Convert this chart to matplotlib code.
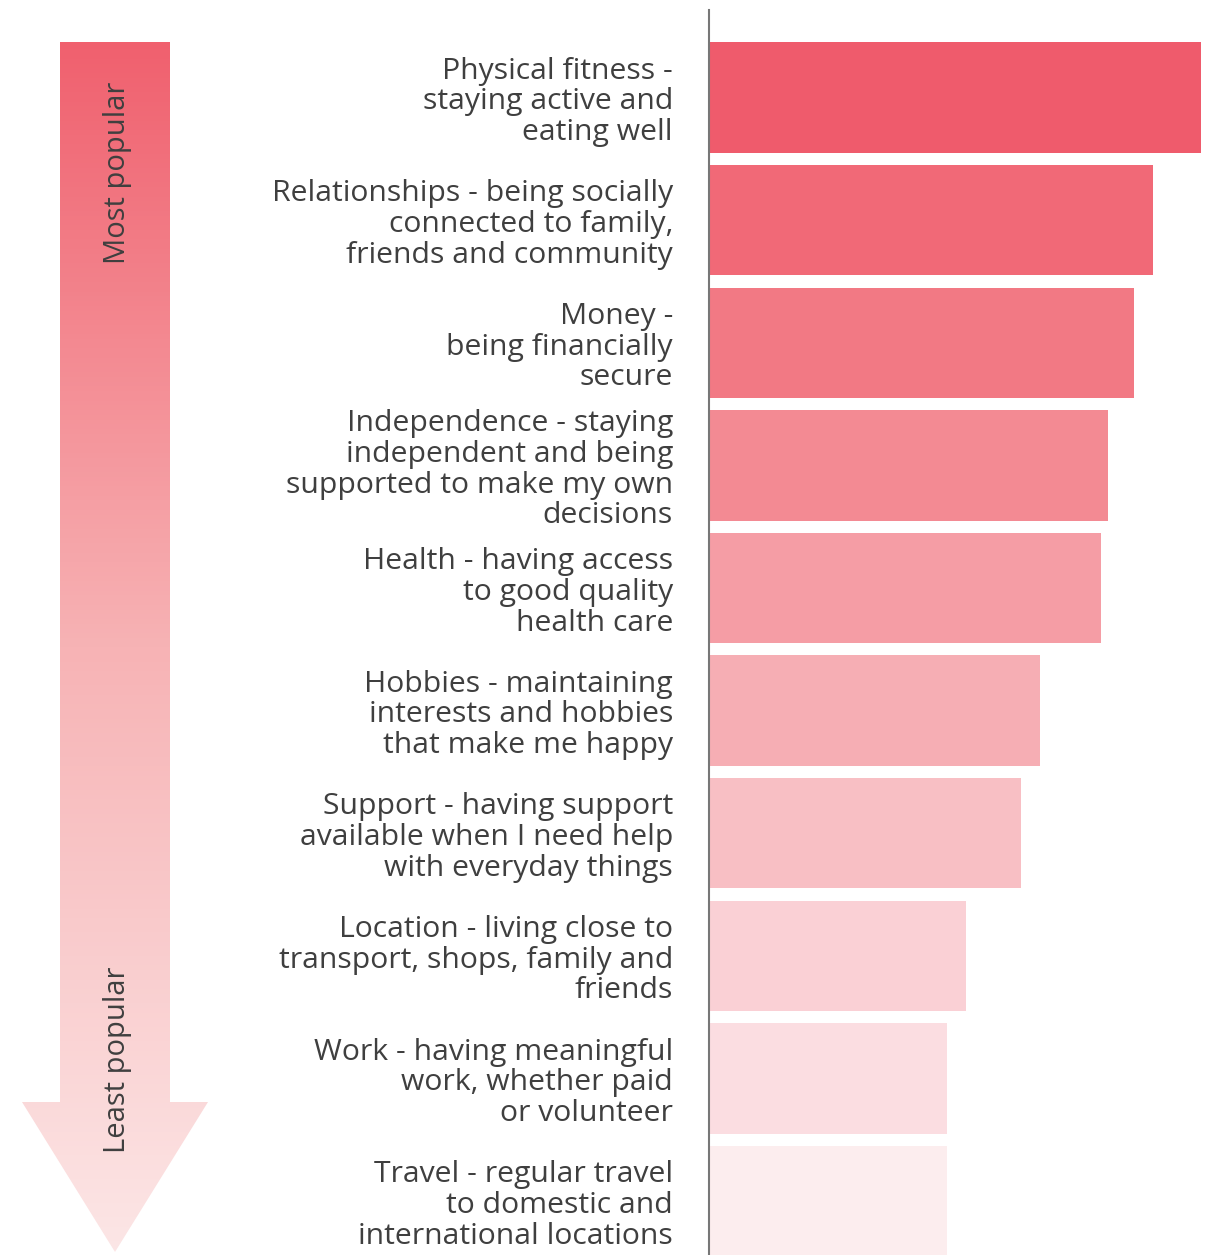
import numpy as np
import matplotlib.pyplot as plt
from matplotlib.patches import Polygon
from matplotlib.colors import LinearSegmentedColormap

labels = [
    "Physical fitness -\nstaying active and\neating well",
    "Relationships - being socially\nconnected to family,\nfriends and community",
    "Money -\nbeing financially\nsecure",
    "Independence - staying\nindependent and being\nsupported to make my own\ndecisions",
    "Health - having access\nto good quality\nhealth care",
    "Hobbies - maintaining\ninterests and hobbies\nthat make me happy",
    "Support - having support\navailable when I need help\nwith everyday things",
    "Location - living close to\ntransport, shops, family and\nfriends",
    "Work - having meaningful\nwork, whether paid\nor volunteer",
    "Travel - regular travel\nto domestic and\ninternational locations",
]
# relative popularity (bar length)
scores = [492, 444, 425, 399, 392, 331, 312, 257, 238, 238]
colors = ["#EF5B6C", "#F16977", "#F27984", "#F38A93", "#F59DA5",
          "#F6AEB4", "#F8BFC4", "#FAD0D5", "#FBDDE1", "#FCEDEE"]

plt.rcParams['font.family'] = ['Open Sans', 'DejaVu Sans']
W, H = 1220, 1255
fig = plt.figure(figsize=(W / 100, H / 100), dpi=100)

# bar chart axes: left edge at 709px, top at 10px
ax = fig.add_axes([709 / W, 0, 1 - 709 / W, (H - 10) / H])
y = np.arange(len(scores))
ax.barh(y, scores, height=0.9, color=colors)
ax.set_xlim(0, W - 709)
ax.set_ylim(9.44, -0.714)
for s in ['top', 'right', 'bottom']:
    ax.spines[s].set_visible(False)
ax.spines['left'].set_color('#777777')
ax.spines['left'].set_linewidth(1.5)
ax.set_xticks([])
ax.set_yticks(y)
ax.set_yticklabels(labels, fontsize=21.7, color='#3f3f3f', linespacing=1.08)
ax.tick_params(axis='y', length=0, pad=26)

# gradient arrow on the left
ax2 = fig.add_axes([0, 0, 1, 1])
ax2.set_xlim(0, W)
ax2.set_ylim(H, 0)
ax2.axis('off')
pts = [(60, 42), (170, 42), (170, 1102), (208, 1102), (115, 1252),
       (22, 1102), (60, 1102)]
arrow = Polygon(pts, closed=True, facecolor='none', edgecolor='none')
ax2.add_patch(arrow)
cmap = LinearSegmentedColormap.from_list('arr', ['#F0606E', '#F7B3B5', '#FCE6E6'])
grad = np.linspace(0, 1, 256).reshape(-1, 1)
im = ax2.imshow(grad, cmap=cmap, extent=(20, 210, 1255, 40), aspect='auto')
im.set_clip_path(arrow)
ax2.set_xlim(0, W)
ax2.set_ylim(H, 0)
ax2.text(118, 82, "Most popular", rotation=90, ha='center', va='top',
         fontsize=21, color='#3f3f3f')
ax2.text(118, 1153, "Least popular", rotation=90, ha='center', va='bottom',
         fontsize=21, color='#3f3f3f')

fig.savefig('out.png', dpi=100)
